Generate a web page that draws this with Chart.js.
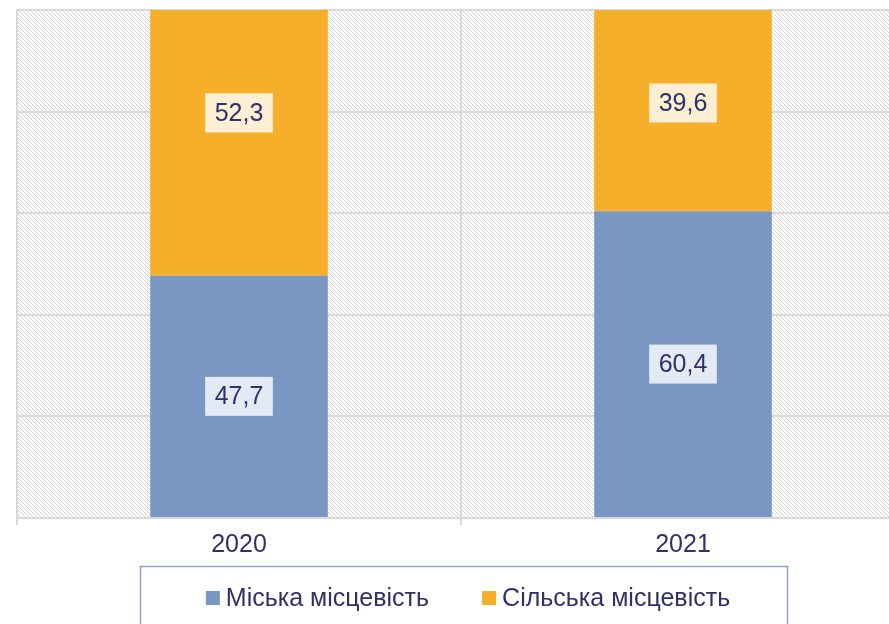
<!DOCTYPE html>
<html><head><meta charset="utf-8">
<script src="https://cdn.jsdelivr.net/npm/chart.js@4.4.1/dist/chart.umd.min.js"></script>
<style>
html,body{margin:0;padding:0;overflow:hidden;background:#fff;width:889px;height:624px}
#wrap{position:absolute;left:0;top:0;width:906px;height:624px}
</style>
</head><body><div id="wrap"><canvas id="c"></canvas></div>
<script>
// ---- data ----
const categories = ['2020', '2021'];
const seriesNames = ['Міська місцевість', 'Сільська місцевість'];
const urbanValues = [47.7, 60.4];
const ruralValues = [52.3, 39.6];
const yTicks = [0, 20, 40, 60, 80, 100];

const FONT = '"Liberation Sans", Arial, sans-serif';
const TEXT = '#2F3168';
const GRID = '#d9d9d9';
const colors = ['#7A96C3', '#F6AF2B'];

function makePattern() {
  const s = 4;
  const c = document.createElement('canvas');
  c.width = s; c.height = s;
  const g = c.getContext('2d');
  g.fillStyle = '#ffffff'; g.fillRect(0, 0, s, s);
  g.fillStyle = '#d4d4d4';
  for (let i = 0; i < s; i++) g.fillRect(i, i, 1, 1);
  return c;
}

const hatchPlugin = {
  id: 'hatch',
  beforeDraw(chart) {
    const { ctx, chartArea: a } = chart;
    ctx.save();
    ctx.fillStyle = ctx.createPattern(makePattern(), 'repeat');
    ctx.fillRect(a.left, a.top, a.right - a.left, a.bottom - a.top);
    ctx.restore();
  }
};

const labelPlugin = {
  id: 'barLabels',
  afterDatasetsDraw(chart, args, opts) {
    const { ctx } = chart;
    const ys = chart.scales.y;
    ctx.save();
    ctx.font = '25px ' + FONT;
    ctx.textAlign = 'center';
    ctx.textBaseline = 'middle';
    chart.data.datasets.forEach((ds, di) => {
      const meta = chart.getDatasetMeta(di);
      meta.data.forEach((el, i) => {
        const v = ds.data[i];
        const txt = v.toFixed(1).replace('.', ',');
        const nud = (opts.nudge && opts.nudge[di]) ? opts.nudge[di][i] : 0;
        const shift = ys.getPixelForValue(0) - ys.getPixelForValue(nud);
        const cx = el.x;
        const cy = (el.y + el.base) / 2 - shift;
        const w = ctx.measureText(txt).width + 19;
        const h = 39;
        ctx.fillStyle = 'rgba(255,255,255,0.8)';
        ctx.fillRect(cx - w / 2, cy - h / 2, w, h);
        ctx.fillStyle = TEXT;
        ctx.fillText(txt, cx, cy + 1);
      });
    });
    ctx.restore();
  }
};

const legendPlugin = {
  id: 'boxLegend',
  afterDraw(chart) {
    const { ctx } = chart;
    ctx.save();
    ctx.strokeStyle = '#8EA2CB';
    ctx.lineWidth = 1.5;
    ctx.strokeRect(140.5, 566.5, 647, 80);
    ctx.font = '25px ' + FONT;
    ctx.textBaseline = 'middle';
    ctx.textAlign = 'left';
    const box = 14, gap = 6, between = 53;
    const widths = chart.data.datasets.map(d => ctx.measureText(d.label).width);
    const total = widths.reduce((s, w) => s + box + gap + w, 0) + between * (widths.length - 1);
    let x = 468 - total / 2;
    const cy = 598;
    chart.data.datasets.forEach((d, i) => {
      ctx.fillStyle = d.backgroundColor;
      ctx.fillRect(x, cy - box / 2, box, box);
      x += box + gap;
      ctx.fillStyle = TEXT;
      ctx.fillText(d.label, x, cy + 1);
      x += widths[i] + between;
    });
    ctx.restore();
  }
};

new Chart(document.getElementById('c'), {
  type: 'bar',
  data: {
    labels: categories,
    datasets: [
      { label: seriesNames[0], data: urbanValues, backgroundColor: colors[0] },
      { label: seriesNames[1], data: ruralValues, backgroundColor: colors[1] }
    ]
  },
  options: {
    responsive: true,
    maintainAspectRatio: false,
    animation: false,
    devicePixelRatio: 1,
    layout: { padding: { left: 17, right: 1, top: 10, bottom: 66 } },
    datasets: { bar: { categoryPercentage: 1, barPercentage: 0.4 } },
    scales: {
      x: {
        stacked: true,
        afterFit(s) { s.height = 40; },
        grid: { display: true, offset: true, color: GRID, lineWidth: 2, tickLength: 7, drawOnChartArea: true },
        border: { display: true, color: GRID, width: 2 },
        ticks: { color: TEXT, font: { family: FONT, size: 25 }, padding: 5 }
      },
      y: {
        stacked: true,
        min: 0, max: 100,
        afterFit(s) { s.width = 0; },
        afterBuildTicks(s) { s.ticks = yTicks.map(v => ({ value: v })); },
        grid: { color: GRID, lineWidth: 2, drawTicks: false },
        border: { display: true, color: GRID, width: 2 },
        ticks: { display: false }
      }
    },
    plugins: {
      legend: { display: false },
      tooltip: { enabled: false },
      barLabels: { nudge: [[0, 0], [5.9, 1.5]] }
    }
  },
  plugins: [hatchPlugin, labelPlugin, legendPlugin]
});
</script>
</body></html>
